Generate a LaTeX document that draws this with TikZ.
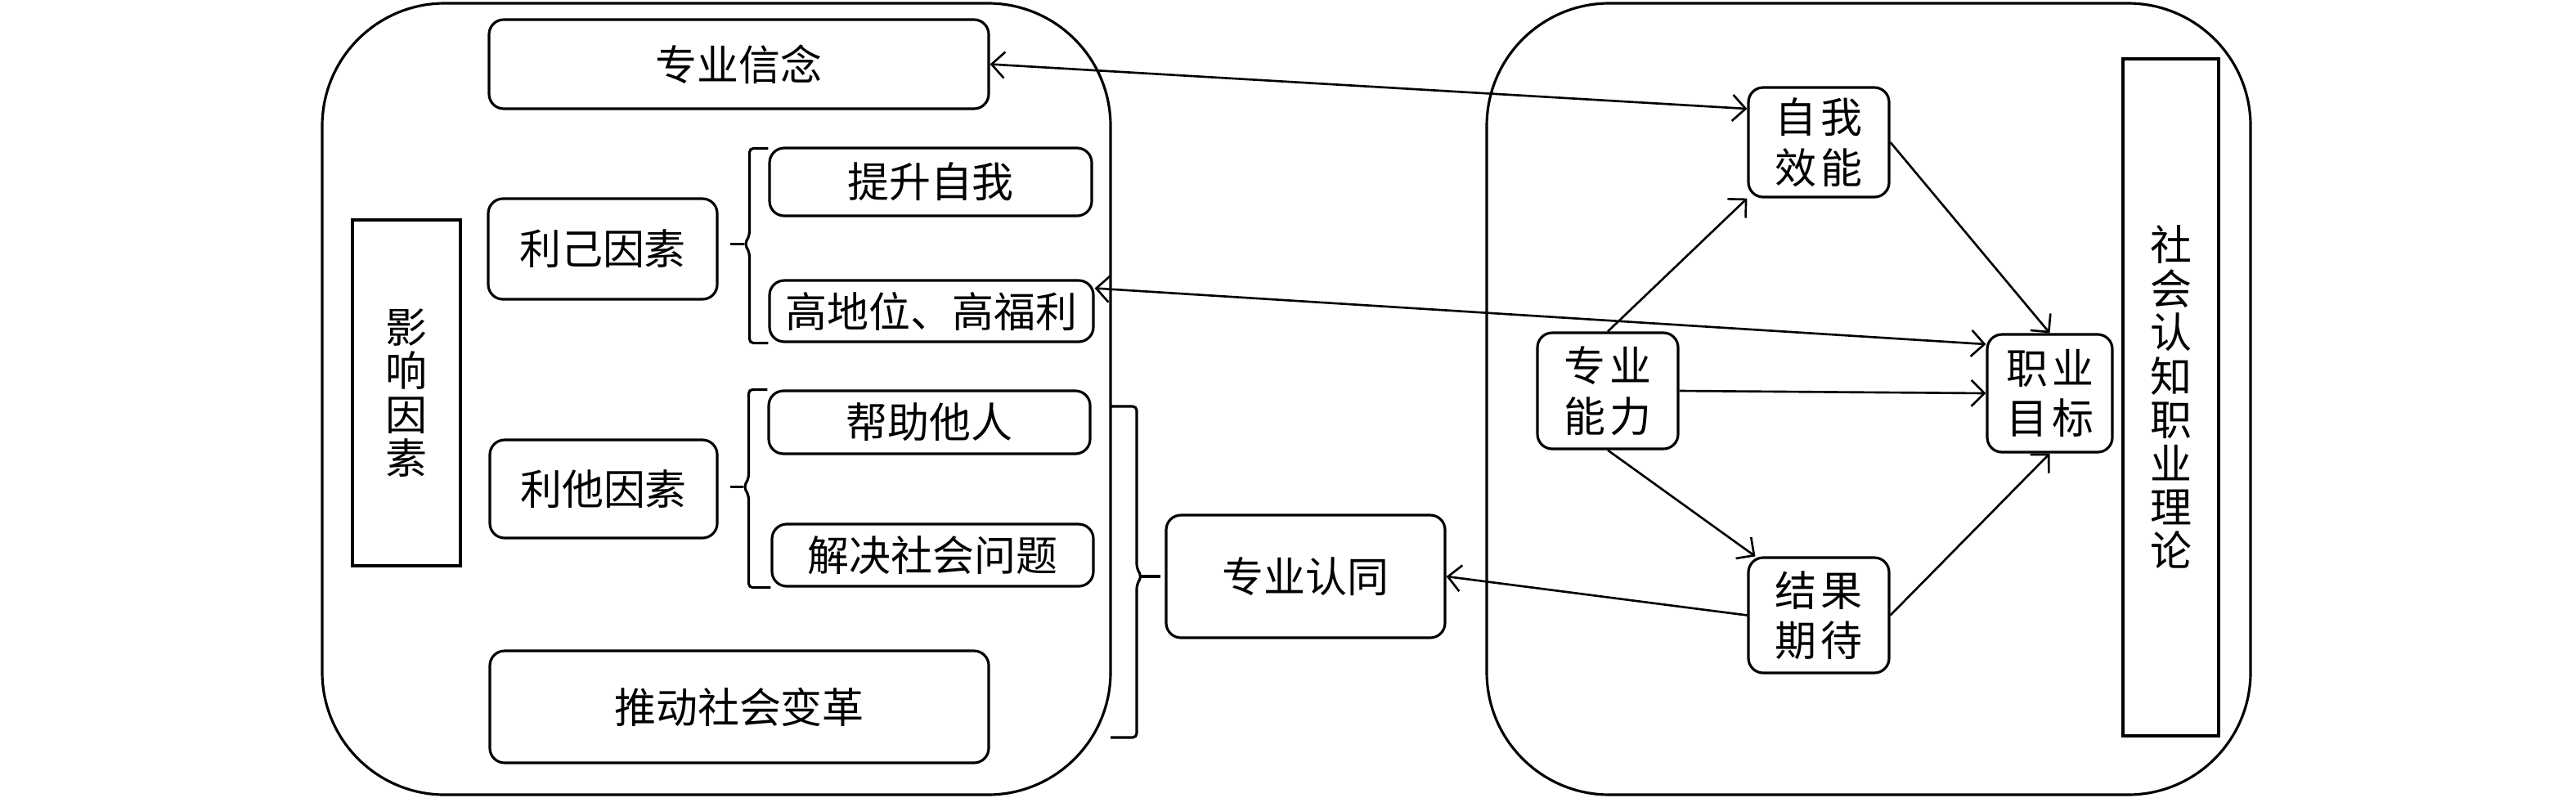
\documentclass[tikz,border=0pt]{standalone}
\usepackage{fontspec}
\newfontfamily\cjk{Noto Sans CJK SC}
\usetikzlibrary{arrows.meta}
\usetikzlibrary{calc}

\tikzset{
	box/.style={draw, line width=0.9pt, rounded corners=0.18cm, align=center, inner sep=0pt, font=\cjk\fontsize{14.5}{17.5}\selectfont},
	sqbox/.style={draw, line width=0.9pt, align=center, inner sep=0pt, font=\cjk\fontsize{14.5}{15.2}\selectfont},
	outer/.style={draw, line width=0.9pt, rounded corners=1.5cm},
	brc/.style={line width=0.9pt, rounded corners=0.05cm},
	link/.style={line width=0.75pt},
	>={Straight Barb[length=1.6mm, width=3.2mm]}
}

\begin{document}
\begin{tikzpicture}
	\useasboundingbox (0,0) rectangle (31.5,-9.75);
	
	\draw[outer] (3.94,-0.04) rectangle (13.58,-9.72);
	\draw[outer] (18.18,-0.04) rectangle (27.52,-9.72);
	
	\node[box, minimum width=6.11cm, minimum height=1.09cm] (xn) at (9.035,-0.785) {专业信念};
	\node[sqbox, minimum width=1.32cm, minimum height=4.23cm] (yx) at (4.97,-4.805) {影\\响\\因\\素};
	\node[box, minimum width=2.80cm, minimum height=1.23cm] (lj) at (7.37,-3.045) {利己因素};
	\node[box, minimum width=3.94cm, minimum height=0.83cm] (tsz) at (11.38,-2.225) {提升自我};
	\node[box, minimum width=3.96cm, minimum height=0.75cm] (gdw) at (11.39,-3.805) {高地位、高福利};
	\node[box, minimum width=2.78cm, minimum height=1.20cm] (lt) at (7.38,-5.98) {利他因素};
	\node[box, minimum width=3.93cm, minimum height=0.77cm] (bz) at (11.365,-5.165) {帮助他人};
	\node[box, minimum width=3.93cm, minimum height=0.76cm] (jj) at (11.405,-6.79) {解决社会问题};
	\node[box, minimum width=6.10cm, minimum height=1.37cm] (td) at (9.04,-8.645) {推动社会变革};
	\node[box, minimum width=3.41cm, minimum height=1.50cm] (rt) at (15.965,-7.05) {专业认同};
	
	\node[box, minimum width=1.72cm, minimum height=1.34cm] (zw) at (22.24,-1.74) {自\hspace{0.1em}我\\效\hspace{0.1em}能};
	\node[box, minimum width=1.72cm, minimum height=1.42cm] (nl) at (19.66,-4.78) {专\hspace{0.1em}业\\能\hspace{0.1em}力};
	\node[box, minimum width=1.53cm, minimum height=1.44cm] (mb) at (25.065,-4.81) {职\hspace{0.1em}业\\目\hspace{0.1em}标};
	\node[box, minimum width=1.72cm, minimum height=1.41cm] (jg) at (22.24,-7.525) {结\hspace{0.1em}果\\期\hspace{0.1em}待};
	\node[sqbox, minimum width=1.17cm, minimum height=8.28cm] (ll) at (26.545,-4.86) {社\\会\\认\\知\\职\\业\\理\\论};
	
	\draw[brc] ([yshift=-0.02cm]tsz.north west) -- ++(-0.23,0) -- ++(0,-1.07) -- ++(-0.06,-0.1) coordinate (c1) -- ++(0.06,-0.1) |- (gdw.south west);
	\draw[brc] (c1) -- ++(-0.17,0);
	\draw[brc] (bz.north west) -- ++(-0.23,0) -- ++(0,-1.09) -- ++(-0.06,-0.1) coordinate (c2) -- ++(0.06,-0.1) |- (jj.south west);
	\draw[brc] (c2) -- ++(-0.16,0);
	\coordinate (b3top) at (13.58,-4.97);
	\coordinate (b3bot) at (13.58,-9.02);
	\draw[brc] (b3top) -- ++(0.32,0) -- ++(0,-1.98) -- ++(0.06,-0.1) coordinate (c3) -- ++(-0.06,-0.1) |- (b3bot);
	\draw[brc] (c3) -- ++(0.23,0);
	
	\draw[link, <->] (xn.east) -- ([yshift=0.41cm]zw.west);
	\draw[link, <->] ([yshift=0.28cm]gdw.east) -- ([yshift=0.6cm]mb.west);
	\draw[link, ->] (jg.west) -- (rt.east);
	\draw[link, ->] (nl.north) -- (zw.south west);
	\draw[link, ->] (nl.south) -- ([xshift=0.1cm]jg.north west);
	\draw[link, ->] (nl.east) -- (mb.west);
	\draw[link, ->] (zw.east) -- (mb.north);
	\draw[link, ->] (jg.east) -- (mb.south);
\end{tikzpicture}
\end{document}
